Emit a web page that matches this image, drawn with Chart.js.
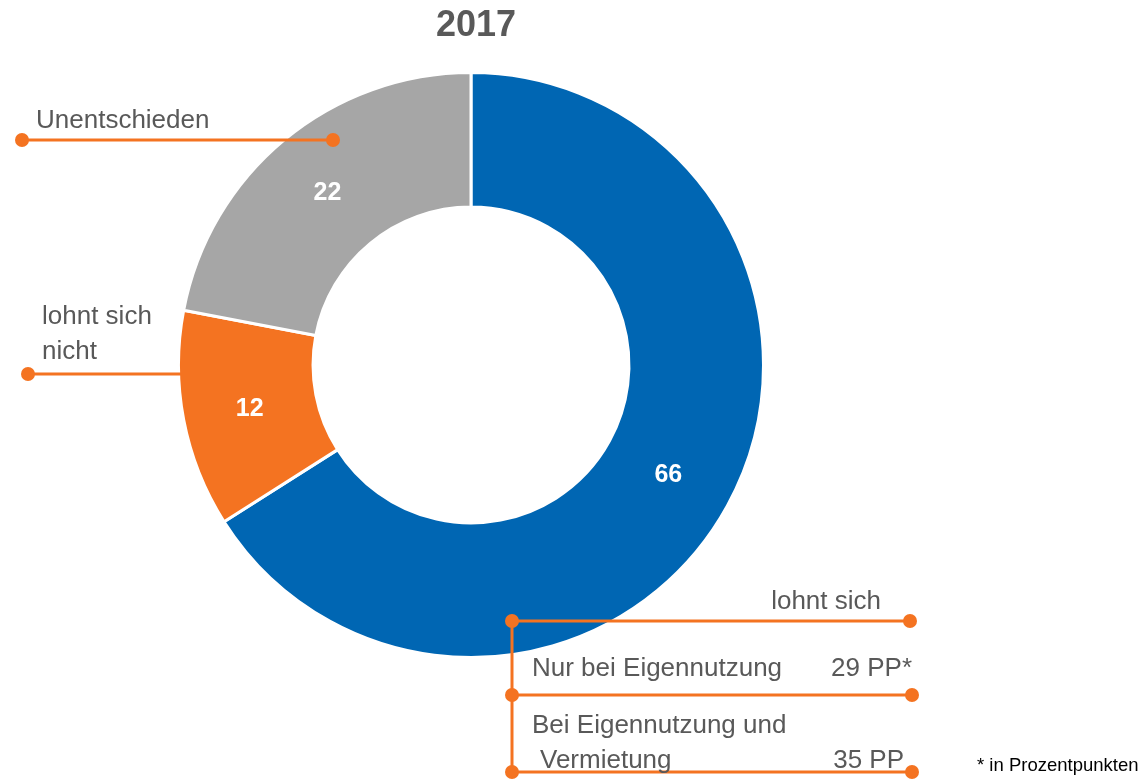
<!DOCTYPE html>
<html>
<head>
<meta charset="utf-8">
<script src="https://cdn.jsdelivr.net/npm/chart.js@4.4.0/dist/chart.umd.min.js"></script>
<style>
  html, body { margin: 0; padding: 0; background: #fff; }
  #wrap { position: relative; width: 1142px; height: 779px; }
</style>
</head>
<body>
<div id="wrap"><canvas id="donut"></canvas></div>
<script>
const labels = ["lohnt sich", "lohnt sich nicht", "Unentschieden"];
const values = [66, 12, 22];
const colors = ["#0066b3", "#f47321", "#a6a6a6"];
const title = "2017";
const orange = "#f47321";
const textGrey = "#595959";
const font = "'Liberation Sans', Arial, sans-serif";

// leader lines and callout texts drawn on top of the doughnut
const callouts = {
  id: "callouts",
  afterDraw(chart) {
    const c = chart.ctx;
    const meta = chart.getDatasetMeta(0);
    c.save();

    // value labels in the middle of each ring segment
    c.fillStyle = "#fff";
    c.font = "bold 25px " + font;
    c.textAlign = "center";
    c.textBaseline = "middle";
    meta.data.forEach((arc, i) => {
      const p = arc.tooltipPosition();
      c.fillText(String(values[i]), p.x, p.y + 2);
    });

    // title
    c.fillStyle = textGrey;
    c.font = "bold 36px " + font;
    c.fillText(title, 476, 26);

    function line(x1, y1, x2, y2) {
      c.strokeStyle = orange;
      c.lineWidth = 3;
      c.beginPath();
      c.moveTo(x1, y1);
      c.lineTo(x2, y2);
      c.stroke();
    }
    function dot(x, y) {
      c.fillStyle = orange;
      c.beginPath();
      c.arc(x, y, 7, 0, Math.PI * 2);
      c.fill();
    }

    // Unentschieden
    line(22, 140, 333, 140);
    dot(22, 140); dot(333, 140);
    // lohnt sich nicht
    line(28, 374, 181, 374);
    dot(28, 374);
    // lohnt sich group
    line(512, 621, 910, 621);
    line(512, 695, 912, 695);
    line(512, 772, 912, 772);
    line(512, 621, 512, 772);
    dot(512, 621); dot(910, 621);
    dot(512, 695); dot(912, 695);
    dot(512, 772); dot(912, 772);

    c.fillStyle = textGrey;
    c.font = "26px " + font;
    c.textBaseline = "middle";
    c.textAlign = "left";
    c.fillText("Unentschieden", 36, 121);
    c.fillText("lohnt sich", 42, 317);
    c.fillText("nicht", 42, 352);
    c.fillText("Nur bei Eigennutzung", 532, 669);
    c.fillText("Bei Eigennutzung und", 532, 726);
    c.fillText("Vermietung", 540, 761);
    c.textAlign = "right";
    c.fillText(labels[0], 881, 602);
    c.fillText("29 PP*", 912, 669);
    c.fillText("35 PP", 904, 761);

    c.fillStyle = "#000";
    c.font = "18.5px " + font;
    c.textAlign = "left";
    c.fillText("* in Prozentpunkten", 977, 766);
    c.restore();
  }
};

new Chart(document.getElementById("donut"), {
  type: "doughnut",
  data: {
    labels: labels,
    datasets: [{
      data: values,
      backgroundColor: colors,
      borderColor: "#fff",
      borderWidth: 3,
      hoverOffset: 0,
      offset: 0
    }]
  },
  options: {
    responsive: true,
    maintainAspectRatio: false,
    animation: false,
    cutout: "54%",
    layout: { padding: { left: 177, right: 377, top: 71, bottom: 120 } },
    plugins: {
      legend: { display: false },
      tooltip: { enabled: false },
      title: { display: false }
    }
  },
  plugins: [callouts]
});
</script>
</body>
</html>
